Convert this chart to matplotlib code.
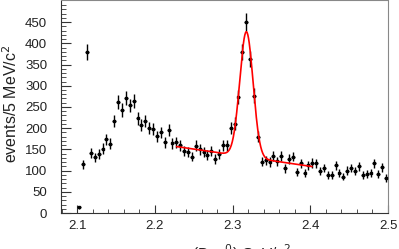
import numpy as np
import matplotlib.pyplot as plt

plt.rcParams['font.family'] = ['Liberation Sans', 'DejaVu Sans']

# ===== data: 5 MeV bins from 2.10 to 2.50 GeV =====
bin_lo, bin_w = 2.10, 0.005
counts = [13, 115, 380, 141, 131, 138, 152, 174, 163, 217,
          261, 243, 271, 254, 265, 223, 207, 217, 200, 197,
          181, 190, 167, 196, 164, 167, 160, 147, 144, 133,
          159, 150, 144, 137, 147, 127, 138, 160, 160, 200,
          211, 274, 380, 451, 364, 277, 180, 121, 124, 120,
          134, 122, 134, 105, 127, 133, 97, 117, 95, 112,
          118, 117, 99, 106, 90, 90, 113, 94, 86, 100,
          106, 99, 110, 89, 91, 94, 117, 92, 108, 83]

# ===== fit (gaussian + linear background) =====
fit_range = (2.228, 2.402)
peak_amp, peak_mean, peak_sigma = 295.0, 2.3177, 0.00855
bg_at_ref, bg_ref, bg_slope = 156.0, 2.23, -270.0

x = bin_lo + bin_w * (np.arange(len(counts)) + 0.5)
y = np.array(counts, dtype=float)
yerr = np.sqrt(y)

xf = np.linspace(fit_range[0], fit_range[1], 400)
yf = (bg_at_ref + bg_slope * (xf - bg_ref)
      + peak_amp * np.exp(-0.5 * ((xf - peak_mean) / peak_sigma) ** 2))

# ===== plot =====
fig = plt.figure(figsize=(3.99, 2.49), dpi=100)
ax = fig.add_axes([61/399, 1 - 213/249, 327/399, 212.5/249])

ax.errorbar(x, y, yerr=yerr, xerr=bin_w/2, fmt='s', color='black',
            ms=2, elinewidth=1, capsize=0, zorder=3)
ax.plot(xf, yf, color='red', lw=1.2, zorder=4)

ax.set_xlim(2.079, 2.5)
ax.set_ylim(0, 501)
ax.set_xticks([2.1, 2.2, 2.3, 2.4, 2.5])
ax.set_xticks(np.arange(2.08, 2.5, 0.02), minor=True)
ax.set_yticks(np.arange(0, 451, 50))
ax.set_yticks(np.arange(0, 500, 10), minor=True)

ax.tick_params(which='both', direction='in', color='#333', labelcolor='#222',
               labelsize=9.5, top=False, right=False)
ax.tick_params(axis='y', which='major', length=7, pad=10)
ax.tick_params(axis='y', which='minor', length=3.5)
ax.tick_params(axis='x', which='major', length=6, pad=5)
ax.tick_params(axis='x', which='minor', length=3)

for s in ('top', 'right'):
    ax.spines[s].set_color('#888')
for s in ('left', 'bottom'):
    ax.spines[s].set_color('#333')

fig.text(11/399, 1 - 104/249, 'events/5 MeV/c$^2$', rotation=90,
         ha='center', va='center', fontsize=11.5, color='#222')
fig.text(236/399, 1 - 242/249, 'm(D$_s\\pi^0$) GeV/c$^2$',
         ha='center', va='top', fontsize=11, color='#222')

fig.savefig('out.png', dpi=100)
